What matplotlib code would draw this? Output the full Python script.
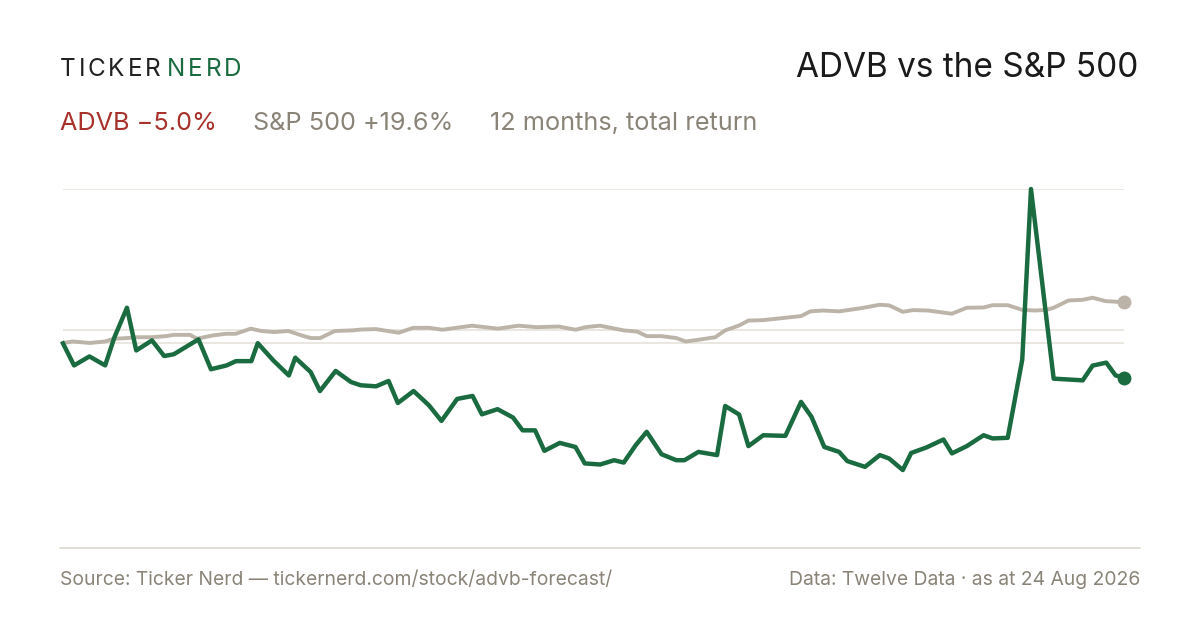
import matplotlib.pyplot as plt
from matplotlib.lines import Line2D

plt.rcParams['font.family'] = ['Inter', 'DejaVu Sans']

# days since start, return in %
advb_days = [0, 3.8, 9.1, 14.5, 17.7, 22, 25.2, 30.6, 34.8, 38.1, 46.6, 50.9, 56.3, 59.5,
             64.8, 67, 72.3, 77.7, 79.9, 85.2, 88.4, 93.8, 99.1, 102.4, 107.7, 112, 115.2,
             120.6, 125.9, 130.2, 135.6, 140.9, 144.1, 149.5, 154.8, 158.1, 162.4, 165.6,
             170.9, 176.3, 179.5, 184.8, 189.6, 192.9, 197, 200.8, 205.9, 211,
             213.8, 218.6, 225, 227.8, 232.6, 235.8, 240.9, 248.5, 253.9, 257.5, 261.9, 267,
             269.8, 275.9, 281, 284.2, 288.9, 291.8, 296.9, 302.9, 305.8, 310.9, 316.7, 319.8,
             325, 330, 333, 340.8, 350.8, 354.2, 358.9, 362.1, 365]
advb_ret = [0, -10.3, -6.1, -10.3, 2.9, 16.7, -3.3, 1.4, -5.9, -5.1, 1.9, -12.1, -10.3, -8.3,
            -8.3, 0.1, -7.9, -15, -6.7, -13.4, -22.3, -12.9, -18.1, -19.6, -20.1, -17.6, -27.9,
            -22.3, -29, -36.3, -26, -24.6, -33.2, -30.8, -34.7, -40.7, -40.7, -50.3, -46.6,
            -48.5, -56.2, -56.7, -54.7, -55.8, -47.7, -41.4, -51.9, -54.7,
            -54.7, -50.8, -52.3, -29.3, -33.3, -48.1, -43, -43.3, -27.4, -34.4, -48.5, -50.8,
            -55.1, -57.8, -52.3, -53.9, -59.3, -51.3, -48.8, -45, -51.5, -48.1, -43, -44.5,
            -44.2, -7.6, 72.3, -16.5, -17.3, -10.4, -9, -15, -16]

spx_days = [0, 3.35, 9.2, 14.4, 17.6, 22.2, 25.3, 30.5, 35.4, 38.2, 43.7, 46.1, 51.4, 56,
            59.4, 64.6, 68.3, 72.6, 77.5, 83.1, 85.4, 88.5, 93.5, 99.6, 102.7, 107.6, 115.5,
            120.5, 126, 130.5, 140.7, 149.6, 156.7, 162.9, 170.6, 176.4, 179.7, 184.7, 192.9,
            197.6, 200.8, 205.9, 211, 214.2, 218.6, 224.4, 227.8, 232.6, 235.8, 240.9, 248.5,
            253.9, 257.1, 261.3, 267, 274.6, 281, 284.2, 288.9, 292.5, 297.6, 305.8, 310.9,
            316.7, 319.8, 325, 330, 334.5, 338.3, 340.8, 345.9, 350.8, 354.2, 358.6, 365]
spx_ret = [0.2, 0.9, 0.2, 0.9, 2.2, 2.5, 2.9, 2.9, 3.4, 4.0, 4.0, 2.2, 3.7, 4.5, 4.5, 6.9,
           5.8, 5.3, 5.8, 3.3, 2.5, 2.5, 5.8, 6.1, 6.5, 6.7, 5.0, 7.3, 7.3, 6.4, 8.3, 6.9, 8.3,
           7.6, 7.9, 6.4, 7.6, 8.3, 6.1, 5.5, 3.4, 3.4, 2.5, 0.9, 1.7, 2.9, 6.1, 8.4, 10.7,
           10.9, 12, 12.8, 15, 15.4, 15, 16.5, 18.1, 17.8, 14.8, 15.6, 15.4, 13.9, 16.7, 16.8,
           17.9, 17.9, 15.7, 15.4, 15.7, 16.7, 20.1, 20.4, 21.4, 19.8, 19.3]

grid_vals = [72.3, 6.5, 0]

GREEN = '#1a6b40'
GREY = '#bcb4a8'
TXT = '#8a8478'

fig = plt.figure(figsize=(12, 6.3), dpi=100)
ax = fig.add_axes([63/1200, 82/630, 1061/1200, 359/630])
ax.set_xlim(0, 365)
ax.set_ylim(-95.8, 72.3)
for g in grid_vals:
    ax.axhline(g, color='#e6e2da', lw=1.2, zorder=0)
ax.plot(spx_days, spx_ret, color=GREY, lw=2.8, solid_joinstyle='round', clip_on=False)
ax.plot(advb_days, advb_ret, color=GREEN, lw=3.2, solid_joinstyle='round', clip_on=False)
ax.plot(spx_days[-1], spx_ret[-1], 'o', color=GREY, ms=9, clip_on=False)
ax.plot(advb_days[-1], advb_ret[-1], 'o', color=GREEN, ms=9, clip_on=False)
ax.axis('off')

fig.add_artist(Line2D([60/1200, 1140/1200], [82/630, 82/630], color='#dedad2', lw=1.2))

# header logo, letter-spaced
x = 60
for word, col in [('TICKER', '#222222'), ('NERD', GREEN)]:
    for ch in word:
        t = fig.text(x/1200, 1 - 70/630, ch, fontsize=17.5, color=col, va='center')
        fig.canvas.draw()
        x = t.get_window_extent().x1 + 2.8
    x += 4
fig.text(1138/1200, 1 - 68/630, 'ADVB vs the S&P 500', fontsize=24, color='#1a1a1a',
         ha='right', va='center')

fig.text(60/1200, 1 - 124/630, 'ADVB \u22125.0%', fontsize=18.2, color='#a8322b', va='center')
fig.text(253/1200, 1 - 124/630, 'S&P 500 +19.6%', fontsize=18.2, color=TXT, va='center')
fig.text(490/1200, 1 - 124/630, '12 months, total return', fontsize=18.2, color=TXT, va='center')

fig.text(60/1200, 1 - 580/630, 'Source: Ticker Nerd \u2014 tickernerd.com/stock/advb-forecast/',
         fontsize=13.9, color=TXT, va='center')
fig.text(1140/1200, 1 - 580/630, 'Data: Twelve Data \u00b7 as at 24 Aug 2026',
         fontsize=13.9, color=TXT, va='center', ha='right')

fig.savefig('out.png', dpi=100, facecolor='white')
